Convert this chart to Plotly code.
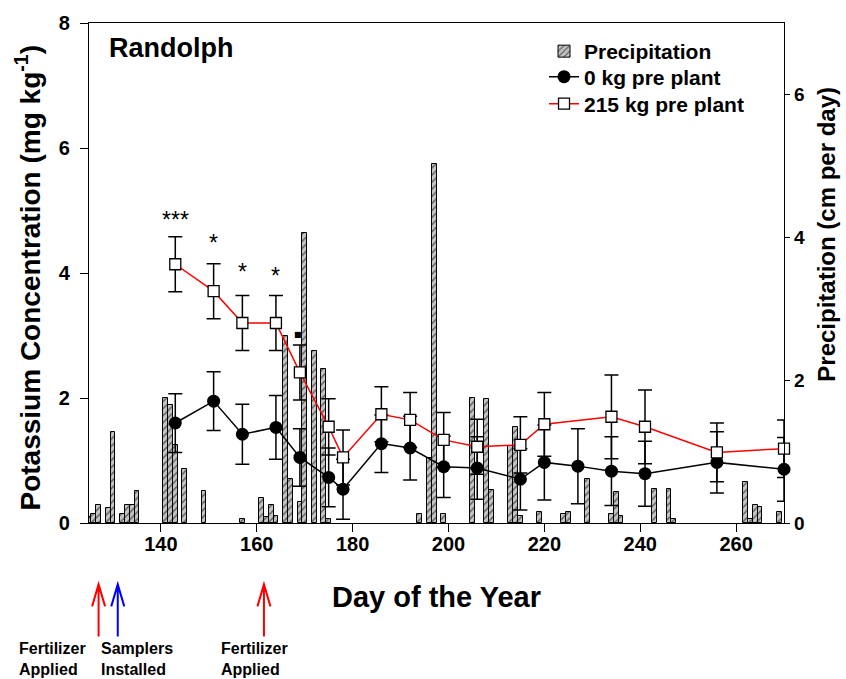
import plotly.graph_objects as go

# ---------------- data ----------------
precip_days = [125, 126, 127, 129, 130, 132, 133, 134, 135, 141, 142, 143, 145, 149, 157,
               161, 162, 163, 164, 166, 167, 169, 170, 172, 174, 175, 194, 196, 197, 199,
               205, 208, 209, 213, 214, 215, 219, 224, 225, 229, 234, 235, 236, 243, 246,
               247, 262, 263, 264, 265, 269]
precip_cm = [0.08, 0.13, 0.25, 0.21, 1.27, 0.13, 0.25, 0.25, 0.45, 1.75, 1.65, 1.09, 0.76, 0.45, 0.06,
             0.35, 0.09, 0.25, 0.10, 2.62, 0.61, 0.30, 4.06, 2.41, 2.16, 0.06, 0.125, 0.91, 5.02, 0.125,
             1.75, 1.73, 0.46, 1.08, 1.34, 0.10, 0.15, 0.13, 0.15, 0.61, 0.13, 0.43, 0.10, 0.48, 0.48,
             0.06, 0.58, 0.06, 0.25, 0.23, 0.15]

days_0kg = [143, 151, 157, 164, 169, 175, 178, 186, 192, 199, 206, 215, 220, 227, 234, 241, 256, 270]
k_0kg = [1.60, 1.95, 1.42, 1.53, 1.05, 0.73, 0.54, 1.27, 1.20, 0.90, 0.88, 0.70, 0.97, 0.91, 0.83, 0.79, 0.97, 0.86]
se_0kg = [0.47, 0.47, 0.48, 0.51, 0.46, 0.47, 0.48, 0.46, 0.51, 0.49, 0.50, 0.49, 0.60, 0.60, 0.55, 0.52, 0.49, 0.51]

days_215 = [143, 151, 157, 164, 169, 175, 178, 186, 192, 199, 206, 215, 220, 234, 241, 256, 270]
k_215 = [4.14, 3.71, 3.20, 3.20, 2.41, 1.54, 1.05, 1.74, 1.65, 1.33, 1.22, 1.25, 1.58, 1.70, 1.54, 1.13, 1.19]
se_215 = [0.44, 0.44, 0.44, 0.44, 0.44, 0.45, 0.44, 0.44, 0.44, 0.44, 0.44, 0.45, 0.51, 0.67, 0.59, 0.47, 0.46]

sig_days = [143, 151, 157, 164, 169]
sig_labels = ["***", "*", "*", "*", "\u25A0"]
sig_shift = [2, 6, 9, 5, 4]

x_ticks = [140, 160, 180, 200, 220, 240, 260]
left_ticks = [0, 2, 4, 6, 8]
right_ticks = [0, 2, 4, 6]

event_days = [127, 131, 161.5]
event_colors = ["#ff0000", "#0000ff", "#ff0000"]
event_texts = ["Fertilizer<br>Applied", "Samplers<br>Installed", "Fertilizer<br>Applied"]
event_text_x = [-0.1032, 0.0148, 0.187]

FONT = "Liberation Sans, Arial, Helvetica, sans-serif"

fig = go.Figure()

fig.add_trace(go.Bar(
    x=precip_days, y=precip_cm, name="Precipitation", yaxis="y", width=1, legend="legend",
    marker=dict(color="#c4c4c4", line=dict(color="black", width=1),
                pattern=dict(shape="/", fgcolor="black", bgcolor="#c4c4c4", size=5, solidity=0.3)),
))

fig.add_trace(go.Scatter(
    x=days_0kg, y=k_0kg, yaxis="y2", name="0 kg pre plant", mode="lines+markers", legend="legend2",
    line=dict(color="black", width=1.5),
    marker=dict(symbol="circle", size=13, color="black"),
    error_y=dict(type="data", array=se_0kg, color="black", thickness=1.5, width=7),
    cliponaxis=False,
))

fig.add_trace(go.Scatter(
    x=days_215, y=k_215, yaxis="y2", name="215 kg pre plant", mode="lines+markers", legend="legend3",
    line=dict(color="#ff0000", width=1.5),
    marker=dict(symbol="square", size=11, color="white", line=dict(color="black", width=1.3)),
    error_y=dict(type="data", array=se_215, color="black", thickness=1.5, width=7),
    cliponaxis=False,
))

annotations = []
# significance marks above the 215 kg error bars
tops = {d: v + e for d, v, e in zip(days_215, k_215, se_215)}
for d, lab, sh in zip(sig_days, sig_labels, sig_shift):
    annotations.append(dict(
        x=d, y=tops[d], xref="x", yref="y2", text=lab, showarrow=False,
        yanchor="bottom", xanchor="center", yshift=sh, xshift=0 if lab != "\u25A0" else -2,
        font=dict(size=23 if lab != "\u25A0" else 8, color="black",
                  family=FONT if lab != "\u25A0" else "DejaVu Sans")))

# axis titles / labels
annotations.append(dict(x=0.5, y=-0.1485, xref="paper", yref="paper", text="Day of the Year",
                        showarrow=False, xanchor="center", yanchor="middle",
                        font=dict(size=29, weight="bold", family=FONT, color="black")))
annotations.append(dict(x=-0.0878, y=0.491, xref="paper", yref="paper",
                        text="Potassium Concentration (mg kg<sup>-1</sup>)", textangle=-90,
                        showarrow=False, xanchor="center", yanchor="middle",
                        font=dict(size=28, weight="bold", family=FONT, color="black")))
annotations.append(dict(x=1.060, y=0.578, xref="paper", yref="paper",
                        text="Precipitation (cm per day)", textangle=-90,
                        showarrow=False, xanchor="center", yanchor="middle",
                        font=dict(size=24, weight="bold", family=FONT, color="black")))
annotations.append(dict(x=0.0259, y=0.95, xref="paper", yref="paper", text="Randolph",
                        showarrow=False, xanchor="left", yanchor="middle",
                        font=dict(size=27, weight="bold", family=FONT, color="black")))

for tx, t in zip(event_text_x, event_texts):
    annotations.append(dict(x=tx, y=-0.2713, xref="paper", yref="paper", text=t, align="left",
                            showarrow=False, xanchor="left", yanchor="middle",
                            font=dict(size=16, weight="bold", family=FONT, color="black")))

# event arrows (shaft + open head) below the axis, anchored at the event day
shapes = []
for d, c in zip(event_days, event_colors):
    shapes.append(dict(type="path", xref="x", yref="paper", xsizemode="pixel", ysizemode="pixel",
                       xanchor=d, yanchor=-0.1228,
                       path="M 0,0 L 0,-52 M -6.5,-22 L 0,0 L 6.5,-22",
                       line=dict(color=c, width=2)))

leg_font = dict(size=21, weight="bold", family=FONT, color="black")
fig.update_layout(
    width=846, height=679,
    margin=dict(l=89, r=62, t=18, b=156),
    paper_bgcolor="white", plot_bgcolor="white",
    font=dict(family=FONT, color="black"),
    bargap=0,
    showlegend=True,
    legend=dict(x=0.6547, y=0.984, xanchor="left", yanchor="top", bgcolor="rgba(0,0,0,0)", font=leg_font),
    legend2=dict(x=0.6547, y=0.933, xanchor="left", yanchor="top", bgcolor="rgba(0,0,0,0)", font=leg_font),
    legend3=dict(x=0.6547, y=0.879, xanchor="left", yanchor="top", bgcolor="rgba(0,0,0,0)", font=leg_font),
    xaxis=dict(range=[125, 270], tickvals=x_ticks, ticks="outside", ticklen=8, tickwidth=1.2,
               tickcolor="black", showline=True, linecolor="black", linewidth=1.2, mirror=True,
               showgrid=False, zeroline=False, ticklabelstandoff=-5,
               tickfont=dict(size=20, weight="bold", family=FONT, color="black")),
    yaxis=dict(range=[0, 7], side="right", tickvals=right_ticks, ticks="outside", ticklen=5,
               tickwidth=1.2, tickcolor="black", showline=True, linecolor="black", linewidth=1.2,
               showgrid=False, zeroline=False,
               tickfont=dict(size=19, weight="bold", family=FONT, color="black")),
    yaxis2=dict(range=[0, 8], overlaying="y", side="left", tickvals=left_ticks, ticks="outside",
                ticklen=8, tickwidth=1.2, tickcolor="black", showline=True, linecolor="black",
                linewidth=1.2, showgrid=False, zeroline=False, ticklabelstandoff=6,
                tickfont=dict(size=20, weight="bold", family=FONT, color="black")),
    annotations=annotations,
    shapes=shapes,
)

fig.write_html("out.html")
